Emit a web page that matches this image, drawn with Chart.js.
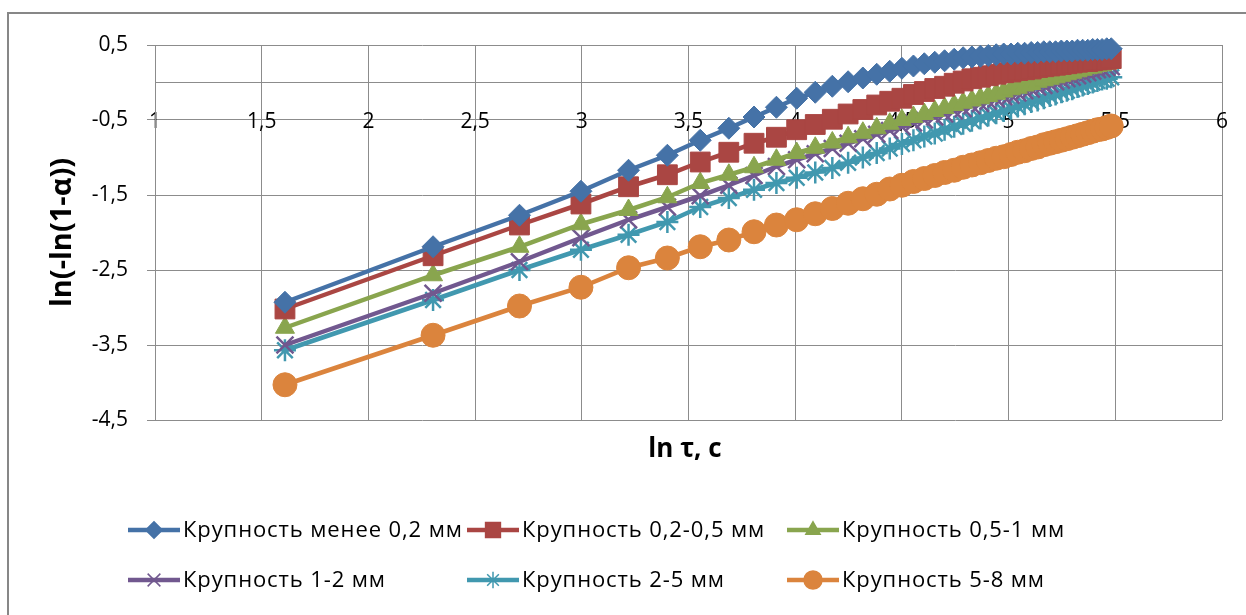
<!DOCTYPE html>
<html>
<head>
<meta charset="utf-8">
<script src="https://cdn.jsdelivr.net/npm/chart.js@4/dist/chart.umd.min.js"></script>
<style>
  html, body { margin: 0; background: #fff; }
</style>
</head>
<body>
<canvas id="chart" width="1246" height="615"></canvas>
<script>
  // ln τ (τ = 5 ... 240 с)
  const lnTau = [1.609, 2.303, 2.708, 2.996, 3.219, 3.401, 3.555, 3.689, 3.807, 3.912,
    4.007, 4.094, 4.174, 4.248, 4.317, 4.382, 4.443, 4.500, 4.554, 4.605,
    4.654, 4.700, 4.745, 4.787, 4.828, 4.868, 4.905, 4.942, 4.977, 5.011,
    5.043, 5.075, 5.106, 5.136, 5.165, 5.193, 5.220, 5.247, 5.273, 5.298,
    5.323, 5.347, 5.371, 5.394, 5.416, 5.438, 5.460, 5.481];

  const sizeBelow02 = [-2.93, -2.19, -1.77, -1.45, -1.17, -0.97, -0.77, -0.61, -0.46, -0.33,
    -0.21, -0.13, -0.05, 0.01, 0.06, 0.11, 0.15, 0.19, 0.22, 0.25,
    0.27, 0.29, 0.31, 0.33, 0.34, 0.35, 0.36, 0.37, 0.38, 0.38,
    0.39, 0.39, 0.40, 0.40, 0.41, 0.41, 0.41, 0.42, 0.42, 0.42,
    0.43, 0.43, 0.43, 0.44, 0.44, 0.44, 0.45, 0.45];
  const size02to05 = [-3.02, -2.31, -1.90, -1.62, -1.39, -1.23, -1.06, -0.93, -0.81, -0.73,
    -0.63, -0.56, -0.49, -0.42, -0.36, -0.30, -0.25, -0.21, -0.16, -0.12,
    -0.08, -0.05, -0.01, 0.02, 0.05, 0.07, 0.09, 0.11, 0.13, 0.14,
    0.16, 0.17, 0.18, 0.20, 0.21, 0.22, 0.23, 0.24, 0.25, 0.26,
    0.27, 0.28, 0.28, 0.29, 0.30, 0.31, 0.31, 0.32];
  const size05to1 = [-3.27, -2.57, -2.19, -1.89, -1.70, -1.53, -1.34, -1.23, -1.13, -1.03,
    -0.94, -0.87, -0.80, -0.73, -0.67, -0.61, -0.55, -0.50, -0.46, -0.42,
    -0.38, -0.34, -0.30, -0.27, -0.24, -0.21, -0.18, -0.15, -0.12, -0.09,
    -0.07, -0.04, -0.02, 0.01, 0.03, 0.05, 0.07, 0.09, 0.11, 0.13,
    0.15, 0.17, 0.19, 0.20, 0.22, 0.23, 0.25, 0.26];
  const size1to2 = [-3.50, -2.81, -2.39, -2.07, -1.83, -1.66, -1.51, -1.37, -1.24, -1.12,
    -1.03, -0.95, -0.88, -0.81, -0.75, -0.69, -0.64, -0.59, -0.54, -0.50,
    -0.46, -0.42, -0.38, -0.35, -0.31, -0.28, -0.25, -0.22, -0.19, -0.17,
    -0.14, -0.11, -0.09, -0.06, -0.04, -0.02, 0.01, 0.03, 0.05, 0.07,
    0.09, 0.11, 0.13, 0.15, 0.17, 0.18, 0.20, 0.21];
  const size2to5 = [-3.57, -2.90, -2.50, -2.23, -2.03, -1.86, -1.66, -1.54, -1.43, -1.34,
    -1.27, -1.20, -1.14, -1.07, -1.00, -0.94, -0.88, -0.82, -0.77, -0.72,
    -0.68, -0.63, -0.59, -0.55, -0.51, -0.48, -0.44, -0.41, -0.38, -0.35,
    -0.32, -0.29, -0.26, -0.24, -0.21, -0.18, -0.16, -0.13, -0.11, -0.09,
    -0.06, -0.04, -0.02, 0.00, 0.02, 0.04, 0.05, 0.07];
  const size5to8 = [-4.03, -3.37, -2.98, -2.73, -2.47, -2.34, -2.19, -2.10, -1.99, -1.90,
    -1.83, -1.75, -1.68, -1.61, -1.55, -1.49, -1.42, -1.37, -1.32, -1.28,
    -1.24, -1.20, -1.17, -1.13, -1.10, -1.07, -1.04, -1.01, -0.99, -0.96,
    -0.93, -0.91, -0.88, -0.86, -0.83, -0.81, -0.79, -0.77, -0.75, -0.73,
    -0.71, -0.69, -0.67, -0.65, -0.63, -0.62, -0.60, -0.58];

  const seriesNames = ['Крупность менее 0,2 мм', 'Крупность 0,2-0,5 мм', 'Крупность 0,5-1 мм',
    'Крупность 1-2 мм', 'Крупность 2-5 мм', 'Крупность 5-8 мм'];
  const seriesValues = [sizeBelow02, size02to05, size05to1, size1to2, size2to5, size5to8];
  const seriesColors = ['#4572A7', '#AA4643', '#89A54E', '#71588F', '#4198AF', '#DB843D'];
  const pointStyles = ['rectRot', 'rect', 'triangle', 'crossRot', 'star', 'circle'];
  const pointSizes = [11, 14, 11, 12, 11, 12];

  const FONT = '"Open Sans", "Noto Sans", sans-serif';
  const GRID = '#8c8c8c';
  const fmt = (v) => String(v).replace('.', ',');

  const datasets = seriesNames.map((name, i) => ({
    label: name,
    data: lnTau.map((x, j) => ({ x: x, y: seriesValues[i][j] })),
    borderColor: seriesColors[i],
    backgroundColor: seriesColors[i],
    pointBackgroundColor: seriesColors[i],
    pointBorderColor: seriesColors[i],
    pointBorderWidth: (pointStyles[i] === 'crossRot' || pointStyles[i] === 'star') ? 2.5 : 1,
    pointStyle: pointStyles[i],
    pointRadius: pointSizes[i],
    borderWidth: 4.5,
    tension: 0,
    clip: false
  }));

  // frame, x axis title and legend drawn like the Excel original
  const extras = {
    id: 'extras',
    afterDraw(chart) {
      const ctx = chart.ctx;
      ctx.save();
      ctx.strokeStyle = '#878787';
      ctx.lineWidth = 2;
      ctx.strokeRect(8, 13, 1300, 700);

      ctx.fillStyle = '#000';
      ctx.font = 'bold 26px ' + FONT;
      ctx.textAlign = 'center';
      ctx.textBaseline = 'middle';
      ctx.fillText('ln τ, с', 685, 450);

      const cols = [128, 467, 787];
      const rows = [530, 580];
      ctx.font = '22px ' + FONT;
      ctx.textAlign = 'left';
      seriesNames.forEach((name, i) => {
        const x0 = cols[i % 3];
        const y0 = rows[Math.floor(i / 3)];
        ctx.strokeStyle = seriesColors[i];
        ctx.lineWidth = 4.5;
        ctx.beginPath();
        ctx.moveTo(x0, y0);
        ctx.lineTo(x0 + 52, y0);
        ctx.stroke();
        ctx.fillStyle = seriesColors[i];
        ctx.lineWidth = 1.5;
        Chart.helpers.drawPoint(ctx, {
          pointStyle: pointStyles[i],
          radius: pointSizes[i] * 0.75,
          rotation: 0,
          borderWidth: 1.5
        }, x0 + 26, y0);
        ctx.fillStyle = '#000';
        ctx.letterSpacing = '0.9px';
        ctx.fillText(name, x0 + 55, y0 + 1);
        ctx.letterSpacing = '0px';
      });
      ctx.restore();
    }
  };

  new Chart(document.getElementById('chart'), {
    type: 'line',
    data: { datasets: datasets },
    options: {
      responsive: false,
      animation: false,
      layout: { padding: { left: 45, top: 45, right: 24, bottom: 195 } },
      plugins: { legend: { display: false }, tooltip: { enabled: false } },
      scales: {
        x: {
          type: 'linear',
          position: { y: 0 },
          min: 1,
          max: 6,
          ticks: {
            stepSize: 0.5, padding: 27, color: '#000', maxRotation: 0, autoSkip: false,
            font: { family: FONT, size: 21 }, callback: fmt
          },
          grid: { color: GRID, drawTicks: false },
          border: { color: GRID },
          // the label padding must not shrink the plot area
          afterFit(scale) { scale.paddingLeft = 0; scale.paddingRight = 0; }
        },
        y: {
          type: 'linear',
          min: -4.5,
          max: 0.5,
          ticks: {
            stepSize: 1, padding: 19, color: '#000',
            font: { family: FONT, size: 21 }, callback: fmt
          },
          grid: { color: GRID, tickLength: 8 },
          border: { color: GRID },
          title: {
            display: true, text: 'ln(-ln(1-α))', color: '#000', padding: 0,
            font: { family: FONT, size: 29, weight: 'bold' }
          },
          afterFit(scale) { scale.width = 110; }
        }
      }
    },
    plugins: [extras]
  });
</script>
</body>
</html>
